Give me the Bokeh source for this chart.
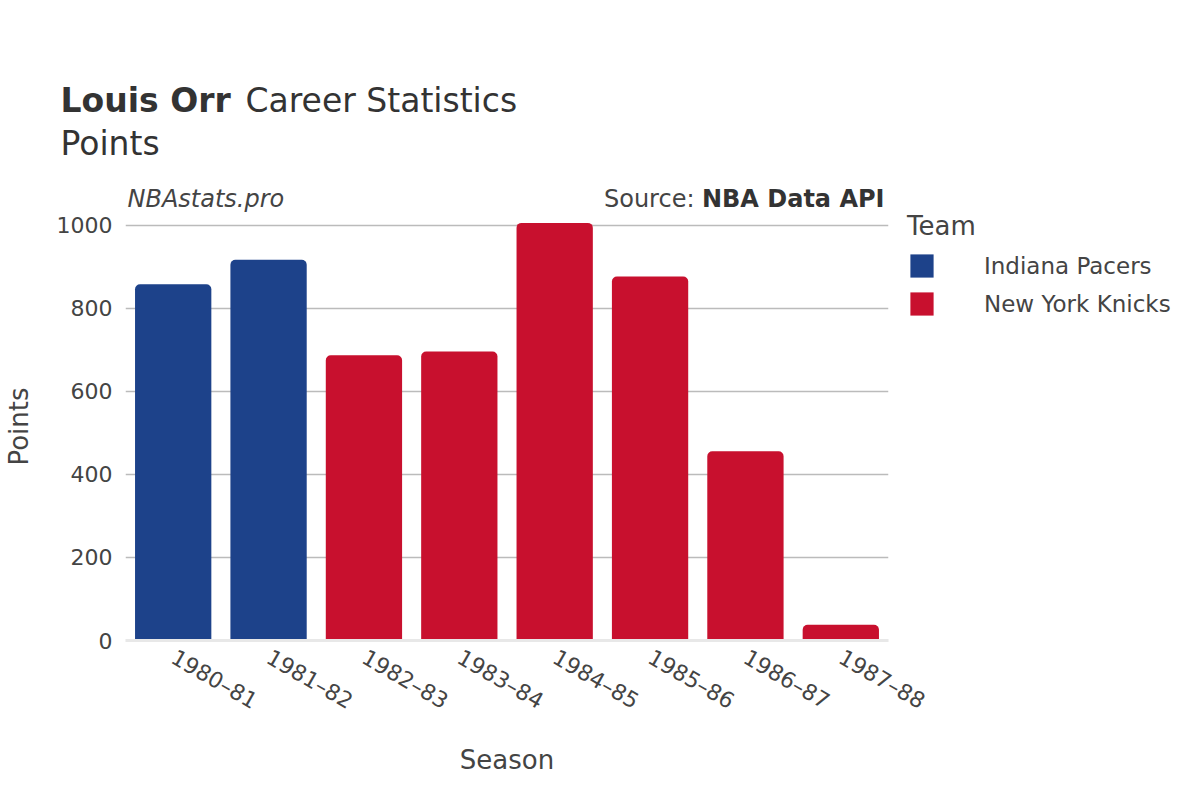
import math
from bokeh.plotting import figure
from bokeh.layouts import column
from bokeh.models import ColumnDataSource, FactorRange, Range1d, Legend, LegendItem
from bokeh.core.properties import value
from bokeh.embed import file_html
from bokeh.resources import INLINE

seasons = ["1980–81", "1981–82", "1982–83", "1983–84", "1984–85", "1985–86", "1986–87", "1987–88"]
teams = ["Indiana Pacers", "Indiana Pacers", "New York Knicks", "New York Knicks",
         "New York Knicks", "New York Knicks", "New York Knicks", "New York Knicks"]
points = [858, 917, 687, 696, 1006, 877, 456, 38]
team_names = ["Indiana Pacers", "New York Knicks"]
team_colors = ["#1D428A", "#C8102E"]
y_ticks = [0, 200, 400, 600, 800, 1000]

FONT = "DejaVu Sans"
W = 1184
TITLE_H = 212

# ---------- title strip ----------
t = figure(width=W, height=TITLE_H, x_range=Range1d(0, W), y_range=Range1d(TITLE_H, 0),
           output_backend="svg", toolbar_location=None, min_border=0,
           outline_line_color=None, border_fill_color="white", frame_align=False)
t.axis.visible = False
t.grid.visible = False

def txt(x, y, s, size, style="normal", align="left", color="#333333"):
    t.text(x=[x], y=[y], text=[s], text_font=value(FONT), text_font_size=size,
           text_font_style=style, text_color=color, text_align=align,
           text_baseline="alphabetic")

txt(60, 100, "Louis Orr", "33px", "bold")
txt(245, 100, "Career Statistics", "33px")
txt(60, 143, "Points", "33px")
txt(127, 198, "NBAstats.pro", "24px", "italic", color="#444444")
txt(884, 198, "NBA Data API", "24px", "bold", align="right")
txt(694, 198, "Source:", "24px", align="right", color="#444444")

# ---------- main chart ----------
color_map = dict(zip(team_names, team_colors))
src = ColumnDataSource(dict(season=seasons, team=teams, points=points,
                            color=[color_map[tm] for tm in teams]))

p = figure(x_range=FactorRange(*seasons, range_padding=0),
           y_range=Range1d(0, 1031),
           frame_width=763, frame_height=428, output_backend="svg", toolbar_location=None,
           min_border_left=125, min_border_right=0, min_border_top=0,
           min_border_bottom=144, background_fill_color="white",
           border_fill_color="white", outline_line_color=None, frame_align=False)

r = p.vbar(x="season", top="points", width=0.8, source=src, fill_color="color",
           line_color=None, border_radius=(5, 5, 0, 0))

p.yaxis.ticker = y_ticks
p.yaxis.axis_line_color = None
p.yaxis.major_tick_line_color = None
p.yaxis.minor_tick_line_color = None
p.yaxis.major_label_text_font = FONT
p.yaxis.major_label_text_font_size = "22px"
p.yaxis.major_label_text_color = "#444444"
p.yaxis.major_label_standoff = 7
p.yaxis.axis_label = "Points"
p.yaxis.axis_label_text_font = FONT
p.yaxis.axis_label_text_font_size = "26px"
p.yaxis.axis_label_text_font_style = "normal"
p.yaxis.axis_label_text_color = "#444444"
p.yaxis.axis_label_standoff = 20

p.xaxis.axis_line_color = "#e8e8e8"
p.xaxis.axis_line_width = 3
p.xaxis.major_tick_line_color = None
p.xaxis.minor_tick_line_color = None
p.xaxis.major_label_orientation = -math.pi / 6
p.xaxis.major_label_text_font = FONT
p.xaxis.major_label_text_font_size = "22px"
p.xaxis.major_label_text_color = "#444444"
p.xaxis.major_label_standoff = 9
p.xaxis.axis_label = "Season"
p.xaxis.axis_label_text_font = FONT
p.xaxis.axis_label_text_font_size = "26px"
p.xaxis.axis_label_text_font_style = "normal"
p.xaxis.axis_label_text_color = "#444444"
p.xaxis.axis_label_standoff = 17

p.xgrid.grid_line_color = None
p.ygrid.grid_line_color = "#bbbbbb"
p.ygrid.grid_line_width = 1.3

items = [LegendItem(label=name, renderers=[r], index=teams.index(name)) for name in team_names]
leg = Legend(items=items, location=(19, 322), padding=0, margin=0,
             title="Team", title_text_font=FONT, title_text_font_size="26px",
             title_text_font_style="normal", title_text_color="#444444",
             title_standoff=10,
             border_line_color=None, background_fill_alpha=0,
             glyph_width=29, glyph_height=29, label_standoff=48, spacing=9,
             label_text_font=FONT, label_text_font_size="23px",
             label_text_color="#444444", label_height=29)
p.add_layout(leg, "right")

layout = column(t, p, spacing=0)
open("out.html", "w").write(file_html(layout, INLINE))
